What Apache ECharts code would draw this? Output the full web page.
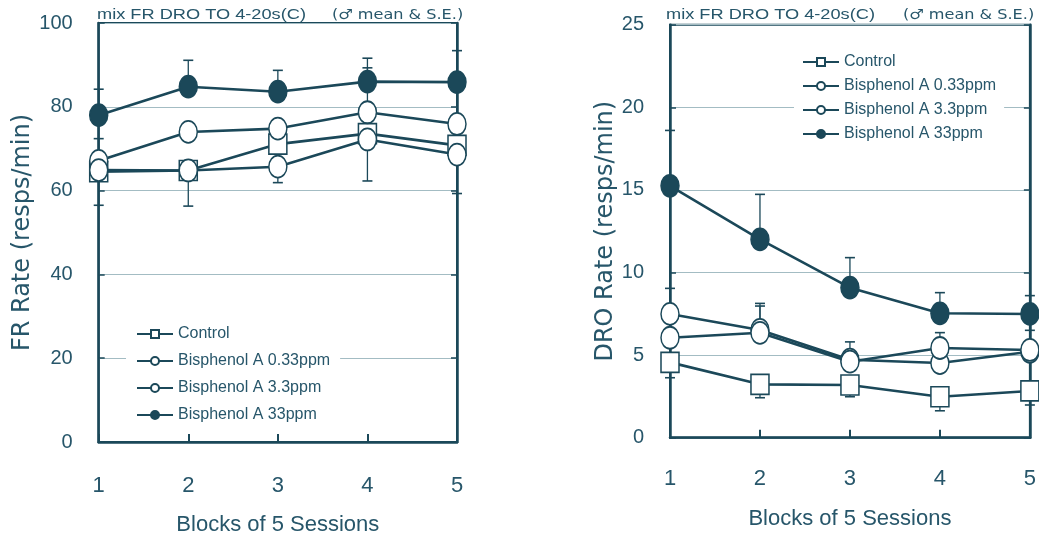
<!DOCTYPE html>
<html>
<head>
<meta charset="utf-8">
<script src="https://cdn.jsdelivr.net/npm/echarts@6/dist/echarts.min.js"></script>
<style>html,body{margin:0;padding:0;background:#fff}#c{width:1039px;height:541px}</style>
</head>
<body>
<div id="c"></div>
<script>
// ---- data ----
const blocks = [1, 2, 3, 4, 5];
const seriesNames = ['Control', 'Bisphenol A 0.33ppm', 'Bisphenol A 3.3ppm', 'Bisphenol A 33ppm'];

// FR rate (left panel)
const frControl = [64.5, 64.8, 71.1, 73.6, 70.8];
const fr033 = [67.1, 74.0, 74.8, 78.7, 75.9];
const fr33 = [64.9, 64.8, 65.7, 72.2, 68.6];
const fr330 = [78.0, 84.8, 83.6, 86.0, 85.9];
// error bar endpoints (null = not visible)
const frControlErr = [56.5, 56.3, 61.9, 62.3, 59.3];
const fr033Err = [72.4, null, null, 89.3, null];
const fr330Err = [84.2, 91.1, 88.7, 91.6, 93.4];

// DRO rate (right panel)
const droControl = [4.56, 3.23, 3.19, 2.48, 2.83];
const dro033 = [7.49, 6.52, 4.72, 4.52, 5.2];
const dro33 = [6.05, 6.35, 4.6, 5.43, 5.31];
const dro330 = [15.25, 12.0, 9.08, 7.53, 7.49];
const droControlErr = [3.63, 2.42, 2.48, 1.63, 1.98];
const dro033Err = [9.04, 8.13, 5.8, null, null];
const dro33Err = [null, 7.97, null, 6.36, null];
const dro330Err = [18.6, 14.73, 10.9, 8.78, 8.6];
const dro330ErrLow = [null, null, null, null, 6.5];

// ---- style ----
const C = '#1b4859';
const T = '#27566a';
const G = '#a3bcc3';
const ELL = 'path://M0,-10A10,10 0 1,1 0,10A10,10 0 1,1 0,-10Z';
const SQ = 'path://M0,0L10,0L10,10L0,10Z';

const chart = echarts.init(document.getElementById('c'));

function lineSeries(name, data, gi, kind) {
  const filled = kind === 'filled';
  return {
    name: name, type: 'line',
    xAxisIndex: gi, yAxisIndex: gi * 2,
    data: blocks.map((b, i) => [b, data[i]]),
    symbol: kind === 'square' ? SQ : ELL,
    symbolSize: kind === 'square' ? [18, 20] : [18, 22],
    lineStyle: { color: C, width: 2.6 },
    itemStyle: { color: filled ? C : '#fff', borderColor: C, borderWidth: 1.6 },
    z: 5, animation: false, emphasis: { disabled: true }
  };
}

function errSeries(id, base, ends, gi) {
  const d = [];
  blocks.forEach((b, i) => { if (ends[i] != null) d.push([b, base[i], ends[i]]); });
  return {
    name: id, type: 'custom', xAxisIndex: gi, yAxisIndex: gi * 2,
    data: d, z: 3, animation: false, silent: true,
    encode: { x: 0, y: [1, 2] },
    renderItem: function (params, api) {
      const p1 = api.coord([api.value(0), api.value(1)]);
      const p2 = api.coord([api.value(0), api.value(2)]);
      return {
        type: 'group', children: [
          { type: 'line', shape: { x1: p1[0], y1: p1[1], x2: p2[0], y2: p2[1] }, style: { stroke: C, lineWidth: 1.3 } },
          { type: 'line', shape: { x1: p2[0] - 5, y1: p2[1], x2: p2[0] + 5, y2: p2[1] }, style: { stroke: C, lineWidth: 1.6 } }
        ]
      };
    }
  };
}

function xAxis(gi) {
  return {
    type: 'value', gridIndex: gi, min: 1, max: 5, interval: 1,
    name: 'Blocks of 5 Sessions', nameLocation: 'middle', nameGap: gi === 0 ? 72 : 70,
    nameTextStyle: { color: T, fontSize: 22, fontFamily: 'Liberation Sans' },
    axisLine: { lineStyle: { color: C, width: 2.5 } },
    axisTick: { inside: true, length: 8, lineStyle: { color: C, width: 2 } },
    axisLabel: { color: T, fontSize: 22, margin: gi === 0 ? 33 : 30, fontFamily: 'Liberation Sans' },
    splitLine: { show: false }
  };
}

function yAxes(gi, max, interval, name, gap) {
  return [{
    type: 'value', gridIndex: gi, min: 0, max: max, interval: interval,
    name: name, nameLocation: 'middle', nameGap: gap,
    nameTextStyle: { color: T, fontSize: 24, fontFamily: 'DejaVu Sans' },
    axisLine: { show: true, lineStyle: { color: C, width: 2.5 } },
    axisTick: { show: true, inside: true, length: 6, lineStyle: { color: C, width: 1.5 } },
    axisLabel: { color: T, fontSize: 20, margin: 26, fontFamily: 'Liberation Sans' },
    splitLine: { show: true, lineStyle: { color: G, width: 1 } }
  }, {
    type: 'value', gridIndex: gi, min: 0, max: max, interval: interval, position: 'right',
    axisLine: { show: true, lineStyle: { color: C, width: 2.5 } },
    axisTick: { show: true, inside: true, length: 6, lineStyle: { color: C, width: 1.5 } },
    axisLabel: { show: false }, splitLine: { show: false }
  }];
}

function legend(left, top, gap, pad) {
  return {
    data: seriesNames, orient: 'vertical', left: left, top: top,
    itemGap: gap, itemWidth: 36, itemHeight: 10,
    padding: pad, backgroundColor: '#fff',
    selectedMode: false,
    textStyle: { color: T, fontSize: 16, fontFamily: 'Liberation Sans', lineHeight: 16 }
  };
}

chart.setOption({
  backgroundColor: '#fff',
  animation: false,
  grid: [
    { left: 98.7, right: 582, top: 23, bottom: 94, show: true, borderColor: C, borderWidth: 2 },
    { left: 670, right: 8.3, top: 24.7, bottom: 103.3, show: true, borderColor: C, borderWidth: 2 }
  ],
  xAxis: [xAxis(0), xAxis(1)],
  yAxis: yAxes(0, 100, 20, 'FR Rate (resps/min)', 64).concat(yAxes(1, 25, 5, 'DRO Rate (resps/min)', 52)),
  legend: [legend(126, 322, 11, [4, 10, 4, 10]), legend(794, 50, 8, [4, 8, 4, 8])],
  graphic: [
    { type: 'text', x: 97, y: 8, scaleX: 1.3, style: { text: 'mix FR DRO TO 4-20s(C)', fill: T, font: '14px "Liberation Sans"' } },
    { type: 'text', x: 332, y: 8, scaleX: 1.15, style: { text: '(\u2642 mean & S.E.)', fill: T, font: '14px "DejaVu Sans"' } },
    { type: 'text', x: 666, y: 8, scaleX: 1.3, style: { text: 'mix FR DRO TO 4-20s(C)', fill: T, font: '14px "Liberation Sans"' } },
    { type: 'text', x: 903, y: 8, scaleX: 1.15, style: { text: '(\u2642 mean & S.E.)', fill: T, font: '14px "DejaVu Sans"' } }
  ],
  series: [
    errSeries('e1', frControl, frControlErr, 0),
    errSeries('e2', fr033, fr033Err, 0),
    errSeries('e3', fr330, fr330Err, 0),
    lineSeries(seriesNames[0], frControl, 0, 'square'),
    lineSeries(seriesNames[1], fr033, 0, 'open'),
    lineSeries(seriesNames[2], fr33, 0, 'open'),
    lineSeries(seriesNames[3], fr330, 0, 'filled'),
    errSeries('e4', droControl, droControlErr, 1),
    errSeries('e5', dro033, dro033Err, 1),
    errSeries('e6', dro33, dro33Err, 1),
    errSeries('e7', dro330, dro330Err, 1),
    errSeries('e8', dro330, dro330ErrLow, 1),
    lineSeries(seriesNames[0], droControl, 1, 'square'),
    lineSeries(seriesNames[1], dro033, 1, 'open'),
    lineSeries(seriesNames[2], dro33, 1, 'open'),
    lineSeries(seriesNames[3], dro330, 1, 'filled')
  ]
});
</script>
</body>
</html>
